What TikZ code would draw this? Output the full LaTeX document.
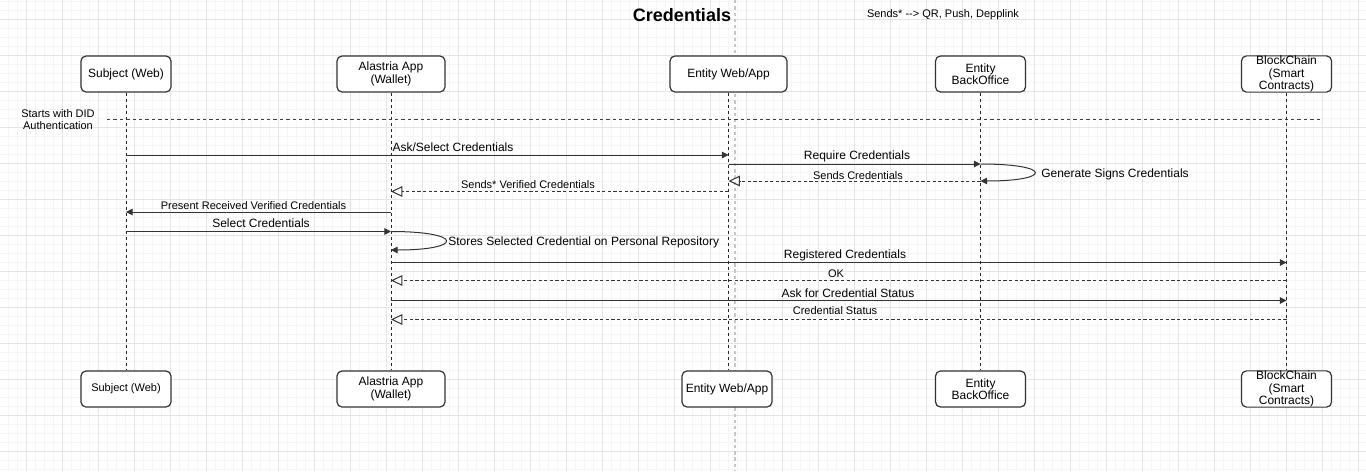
\documentclass[tikz,border=0pt]{standalone}
\usepackage{fontspec}
\setmainfont{Liberation Sans}
\usetikzlibrary{arrows.meta}
\tikzset{
  gridminor/.style={draw=black!4, line width=0.6pt},
  gridmajor/.style={draw=black!10, line width=0.75pt},
  pagebreak/.style={draw=black!22, line width=1.3pt, dash pattern=on 2.5pt off 2.2pt},
  actor/.style={draw=black!80, line width=0.9pt, rounded corners=3.75pt, fill=white,
    minimum width=67.5pt, minimum height=27pt, inner sep=0pt, align=center,
    font=\fontsize{9}{9.2}\selectfont},
  lifeline/.style={draw=black!85, line width=0.75pt, dash pattern=on 2.25pt off 2.25pt},
  didline/.style={draw=black!75, line width=0.9pt, dash pattern=on 2.6pt off 2.2pt},
  msg/.style={draw=black!80, line width=0.75pt, -{Triangle[length=5pt,width=5pt]}},
  ret/.style={draw=black!80, line width=0.75pt, dash pattern=on 2.4pt off 1.8pt,
    -{Triangle[open,length=8.5pt,width=8pt]}},
  lbl/.style={inner sep=0pt, font=\fontsize{9}{10}\selectfont},
  slbl/.style={inner sep=0pt, font=\fontsize{8.25}{9}\selectfont},
}
\begin{document}
\begin{tikzpicture}[x=0.75pt,y=-0.75pt]
\useasboundingbox (0,0) rectangle (1366,471);
\fill[white] (0,0) rectangle (1366,471);
% grid
\foreach \x in {8.7,17.7,...,1366} \draw[gridminor] (\x,0) -- (\x,471);
\foreach \y in {1.3,10.3,...,471} \draw[gridminor] (0,\y) -- (1366,\y);
\foreach \x in {26.7,62.7,...,1366} \draw[gridmajor] (\x,0) -- (\x,471);
\foreach \y in {19.3,55.3,...,471} \draw[gridmajor] (0,\y) -- (1366,\y);
\draw[pagebreak] (735,0) -- (735,471);

% title and note
\node[font=\bfseries\fontsize{13.5}{16}\selectfont, inner sep=0pt] (title) at (682,15) {Credentials};
\node[slbl] (note) at (943,15) {Sends* -{}-> QR, Push, Depplink};

% actors top
\node[actor] (subT) at (126,74) {Subject (Web)};
\node[actor, minimum width=81pt] (alT) at (391,74) {Alastria App\\(Wallet)};
\node[actor, minimum width=87.75pt] (ewT) at (728.5,74) {Entity Web/App};
\node[actor] (boT) at (980.5,74) {Entity\\BackOffice};
\node[actor, font=\fontsize{9}{9.4}\selectfont] (bcT) at (1286.5,74) {BlockChain\\(Smart\\Contracts)};
% actors bottom
\node[actor, font=\fontsize{8.25}{9}\selectfont] (subB) at (126,389) {Subject (Web)};
\node[actor, minimum width=81pt] (alB) at (391,389) {Alastria App\\(Wallet)};
\node[actor] (ewB) at (727,389) {Entity Web/App};
\node[actor] (boB) at (980.5,389) {Entity\\BackOffice};
\node[actor, font=\fontsize{9}{9.4}\selectfont] (bcB) at (1286.5,389) {BlockChain\\(Smart\\Contracts)};

% lifelines
\draw[lifeline] (subT) -- (subB);
\draw[lifeline] (alT) -- (alB);
\draw[lifeline] (ewT.south) -- (ewT.south |- ewB.north);
\draw[lifeline] (boT) -- (boB);
\draw[lifeline] (bcT) -- (bcB);

% DID authentication separator
\node[font=\fontsize{8.25}{9}\selectfont, align=center, inner sep=0pt] (did) at (58,119.5) {Starts with DID\\Authentication};
\coordinate (didA) at (107,119.5);
\coordinate (didB) at (1320,119.5);
\draw[didline] (didA) -- (didB);

% message rows
\coordinate (m1) at (0,155);
\coordinate (m2) at (0,164);
\coordinate (m3) at (0,181);
\coordinate (m4) at (0,191.5);
\coordinate (m5) at (0,212);
\coordinate (m6) at (0,231.5);
\coordinate (m6b) at (0,250);
\coordinate (m7) at (0,262.5);
\coordinate (m8) at (0,280.5);
\coordinate (m9) at (0,300.5);
\coordinate (m10) at (0,319.5);

\draw[msg] (subT |- m1) -- (ewT |- m1);
\node[lbl] (l1) at (453,147) {Ask/Select Credentials};

\draw[msg] (ewT |- m2) -- (boT |- m2);
\node[lbl] (l2) at (857,156) {Require Credentials};

\draw[msg] (boT |- m2) .. controls +(72,0) and +(72,0) .. (boT |- m3);
\node[lbl, anchor=west] (l2b) at (1041,174) {Generate Signs Credentials};

\draw[ret] (boT |- m3) -- (ewT |- m3);
\node[slbl] (l3) at (858,176) {Sends Credentials};

\draw[ret] (ewT |- m4) -- (alT |- m4);
\node[slbl] (l4) at (528,185) {Sends* Verified Credentials};

\draw[msg] (alT |- m5) -- (subT |- m5);
\node[slbl] (l5) at (253.5,206) {Present Received Verified Credentials};

\draw[msg] (subT |- m6) -- (alT |- m6);
\node[lbl] (l6) at (261,223) {Select Credentials};

\draw[msg] (alT |- m6) .. controls +(73,0) and +(73,0) .. (alT |- m6b);
\node[lbl, anchor=west] (l6b) at (448,242) {Stores Selected Credential on Personal Repository};

\draw[msg] (alT |- m7) -- (bcT |- m7);
\node[lbl] (l7) at (845,255) {Registered Credentials};

\draw[ret] (bcT |- m8) -- (alT |- m8);
\node[slbl] (l8) at (836,274) {OK};

\draw[msg] (alT |- m9) -- (bcT |- m9);
\node[lbl] (l9) at (848,293) {Ask for Credential Status};

\draw[ret] (bcT |- m10) -- (alT |- m10);
\node[slbl] (l10) at (835,311) {Credential Status};
\end{tikzpicture}
\end{document}
